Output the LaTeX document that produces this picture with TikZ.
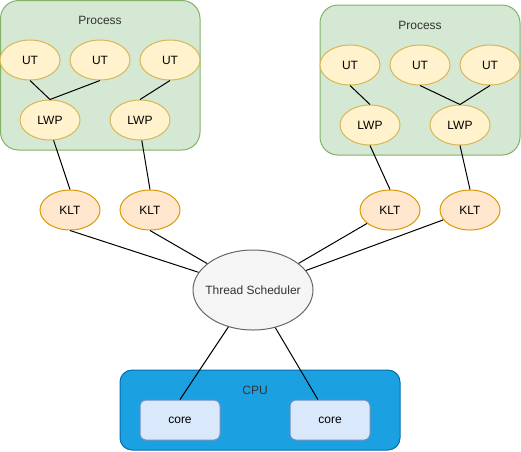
\documentclass[tikz,border=0pt]{standalone}
\usepackage{fontspec}
\setmainfont{Liberation Sans}
\usetikzlibrary{shapes.geometric}
\definecolor{procfill}{HTML}{D5E8D4}
\definecolor{procdraw}{HTML}{82B366}
\definecolor{utfill}{HTML}{FFF2CC}
\definecolor{utdraw}{HTML}{D6B656}
\definecolor{kltfill}{HTML}{FFE6CC}
\definecolor{kltdraw}{HTML}{D79B00}
\definecolor{schfill}{HTML}{F5F5F5}
\definecolor{schdraw}{HTML}{666666}
\definecolor{cpufill}{HTML}{1BA1E2}
\definecolor{cpudraw}{HTML}{006EAF}
\definecolor{corefill}{HTML}{DAE8FC}
\definecolor{coredraw}{HTML}{6C8EBF}
\definecolor{txtgray}{HTML}{333333}
\tikzset{
  every node/.style={font=\fontsize{12pt}{14pt}\selectfont, inner sep=0pt},
  procbox/.style={draw=procdraw, fill=procfill, rounded corners=18pt, line width=1pt},
  utnode/.style={ellipse, draw=utdraw, fill=utfill, line width=1pt, minimum width=60pt, minimum height=40pt},
  kltnode/.style={ellipse, draw=kltdraw, fill=kltfill, line width=1pt, minimum width=60pt, minimum height=40pt},
  schnode/.style={ellipse, draw=schdraw, fill=schfill, line width=1pt, minimum width=120pt, minimum height=80pt},
  cpubox/.style={draw=cpudraw, fill=cpufill, rounded corners=12pt, line width=1pt},
  corenode/.style={rectangle, rounded corners=6pt, draw=coredraw, fill=corefill, line width=1pt, minimum width=80pt, minimum height=40pt},
  link/.style={draw=black, line width=1pt}
}
\begin{document}
\begin{tikzpicture}[x=1pt,y=-1pt]
\useasboundingbox (0,0) rectangle (521,451);
% process boxes
\draw[procbox] (0.5,0.5) rectangle (200,150);
\node[text=txtgray] (p1) at (100,20) {Process};
\draw[procbox] (320,5) rectangle (520,155);
\node[text=txtgray] (p2) at (420,25) {Process};
% CPU
\draw[cpubox] (120,370) rectangle (400,450);
\node[text=txtgray] (cpu) at (255,390) {CPU};
% left process
\node[utnode] (ut1) at (30,60) {UT};
\node[utnode] (ut2) at (100,60) {UT};
\node[utnode] (ut3) at (170,60) {UT};
\node[utnode] (lwp1) at (50,120) {LWP};
\node[utnode] (lwp2) at (140,120) {LWP};
% right process
\node[utnode] (ut4) at (350,65) {UT};
\node[utnode] (ut5) at (420,65) {UT};
\node[utnode] (ut6) at (490,65) {UT};
\node[utnode] (lwp3) at (370,125) {LWP};
\node[utnode] (lwp4) at (460,125) {LWP};
% KLTs
\node[kltnode] (klt1) at (70,210) {KLT};
\node[kltnode] (klt2) at (150,210) {KLT};
\node[kltnode] (klt3) at (390,210) {KLT};
\node[kltnode] (klt4) at (470,210) {KLT};
% scheduler
\node[schnode] (sch) at (253,290) {};
\node[text=txtgray] (schlabel) at (sch.center) {Thread Scheduler};
% cores
\node[corenode] (core1) at (180,420) {core};
\node[corenode] (core2) at (330,420) {core};
% links
\draw[link] (ut1.south) -- (lwp1.north);
\draw[link] (ut2.south) -- (lwp1.north);
\draw[link] (ut3.south) -- (lwp2.north);
\draw[link] (ut4.south) -- (lwp3.north);
\draw[link] (ut5.south) -- (lwp4.north);
\draw[link] (ut6.south) -- (lwp4.north);
\draw[link] (lwp1.-80) -- (klt1.north);
\draw[link] (lwp2.-85) -- (klt2.north);
\draw[link] (lwp3.south) -- (klt3.north);
\draw[link] (lwp4.south) -- (klt4.north);
\draw[link] (klt1.south) -- (sch);
\draw[link] (klt2.south) -- (sch);
\draw[link] (klt3) -- (sch);
\draw[link] (klt4) -- (sch);
\draw[link] (sch) -- (core1.north);
\draw[link] (sch) -- (core2);
\end{tikzpicture}
\end{document}
